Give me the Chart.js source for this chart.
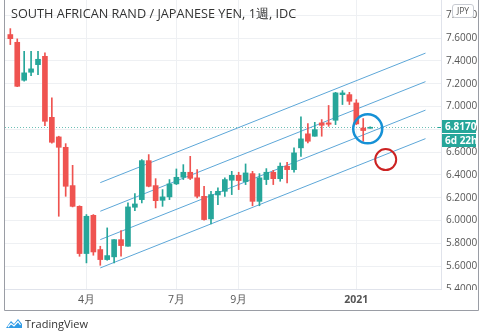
<!DOCTYPE html>
<html>
<head>
<meta charset="utf-8">
<script src="https://cdn.jsdelivr.net/npm/chart.js@4.4.1/dist/chart.umd.min.js"></script>
<style>
  html, body { margin: 0; padding: 0; background: #fff; }
  #wrap { position: relative; width: 480px; height: 332px; overflow: hidden; font-family: 'Open Sans', sans-serif; }
  #chart { position: absolute; left: 0; top: 0; }
  #title { position: absolute; left: 11px; top: 5px; font-size: 12.7px; line-height: 16px; color: #333; white-space: nowrap; }
  #unit { position: absolute; left: 452px; top: 4px; width: 20px; height: 12px; line-height: 12px; border: 1px solid #c8cbd2; border-radius: 3px;
          background: #fff; font-size: 8.5px; color: #555; text-align: center; }
  #brand { position: absolute; left: 5px; top: 316px; height: 14px; display: flex; align-items: center; font-size: 11px; color: #333; }
  #brand svg { margin-right: 2px; }
</style>
</head>
<body>
<div id="wrap">
  <canvas id="chart" width="480" height="332"></canvas>
  <div id="title">SOUTH AFRICAN RAND / JAPANESE YEN, 1週, IDC</div>
  <div id="unit">JPY</div>
  <div id="brand">
    <svg width="18" height="11" viewBox="0 0 18 11">
      <path d="M1 10 L6 3 L9 6 L13 1 L17 6 L17 10 Z" fill="#2f9be6"/>
      <path d="M3 9 L6 5.5 L9 8 L13 3.5 L15.5 7" fill="none" stroke="#fff" stroke-width="1.2"/>
    </svg>
    <span>TradingView</span>
  </div>
</div>
<script>
// weekly candles, ZAR/JPY, week of 2020-01-20 .. 2021-01-18
const firstWeek = '2020-01-20';
const weekCount = 63; // includes empty weeks to the right of the last candle

const opens  = [7.632, 7.564, 7.231, 7.301, 7.368, 7.441, 6.906, 6.734, 6.643, 6.307,
                6.125, 5.711, 6.046, 5.746, 5.658, 5.682, 5.833, 5.775, 6.117, 6.184,
                6.526, 6.307, 6.178, 6.208, 6.322, 6.380, 6.424, 6.375, 6.213, 6.015,
                6.225, 6.257, 6.354, 6.397, 6.342, 6.412, 6.169, 6.360, 6.424, 6.368,
                6.477, 6.447, 6.638, 6.761, 6.740, 6.857, 6.857, 6.880, 7.105, 7.105,
                7.032, 6.812, 6.810];
const highs  = [7.684, 7.594, 7.485, 7.485, 7.485, 7.471, 7.076, 6.740, 6.675, 6.485,
                6.130, 6.053, 6.053, 5.775, 5.936, 5.833, 5.912, 6.155, 6.237, 6.535,
                6.579, 6.368, 6.272, 6.360, 6.453, 6.491, 6.564, 6.447, 6.301, 6.257,
                6.287, 6.375, 6.432, 6.424, 6.497, 6.432, 6.412, 6.456, 6.441, 6.506,
                6.511, 6.638, 6.910, 6.851, 6.862, 6.886, 7.010, 7.125, 7.140, 7.125,
                7.061, 6.895, 6.822];
const lows   = [7.544, 7.175, 7.222, 7.272, 7.281, 6.833, 6.680, 6.038, 6.213, 6.120,
                5.687, 5.629, 5.696, 5.608, 5.652, 5.629, 5.687, 5.775, 6.088, 6.155,
                6.296, 6.111, 6.125, 6.184, 6.316, 6.360, 6.360, 6.199, 6.003, 5.971,
                6.140, 6.213, 6.228, 6.272, 6.316, 6.130, 6.130, 6.316, 6.316, 6.345,
                6.331, 6.424, 6.564, 6.682, 6.740, 6.740, 6.827, 6.842, 7.018, 7.018,
                6.842, 6.696, 6.810];
const closes = [7.596, 7.178, 7.296, 7.331, 7.415, 6.871, 6.687, 6.643, 6.301, 6.125,
                5.711, 6.038, 5.725, 5.658, 5.693, 5.833, 5.781, 6.120, 6.146, 6.526,
                6.301, 6.175, 6.208, 6.322, 6.380, 6.424, 6.371, 6.213, 6.009, 6.228,
                6.257, 6.360, 6.397, 6.351, 6.418, 6.169, 6.375, 6.424, 6.368, 6.477,
                6.447, 6.594, 6.717, 6.696, 6.798, 6.836, 6.845, 7.120, 7.120, 7.047,
                6.848, 6.790, 6.817];

// price axis and time axis labels
const priceTicks = [5.4, 5.6, 5.8, 6.0, 6.2, 6.4, 6.6, 6.8, 7.0, 7.2, 7.4, 7.6, 7.8];
const tickWeeks  = ['2020-04-06', '2020-07-06', '2020-09-07', '2021-01-04'];
const tickLabels = ['4月', '7月', '9月', '2021'];

// parallel channel: start/end week and the four rails
const channelWeeks = ['2020-04-20', '2021-03-15'];
const channelStart = [6.333, 6.082, 5.833, 5.585];
const channelEnd   = [7.469, 7.219, 6.969, 6.719];

// hand-drawn circles (week position, price)
const markWeeks  = [51.65, 54.25];
const markPrices = [6.805, 6.535];

const countdown = '6d 22h';

const UP = '#26a69a', DOWN = '#ef5350';

const weeks = [];
for (let i = 0; i < weekCount; i++) {
  const d = new Date(Date.parse(firstWeek + 'T00:00:00Z') + i * 7 * 864e5);
  weeks.push(d.toISOString().slice(0, 10));
}
const weekIndex = d => weeks.indexOf(d);

const candleColors = closes.map((c, i) => c >= opens[i] ? UP : DOWN);

const channelSets = channelStart.map((s, k) => ({
  type: 'line',
  data: [{ x: weekIndex(channelWeeks[0]), y: s }, { x: weekIndex(channelWeeks[1]), y: channelEnd[k] }],
  borderColor: '#5da7d8',
  borderWidth: 1,
  pointRadius: 0,
  order: 3
}));

const chartPlugin = {
  id: 'tvFrame',
  beforeDatasetsDraw(chart) {
    // dotted line at the last close
    const { ctx, chartArea, scales: { y } } = chart;
    const py = Math.round(y.getPixelForValue(closes[closes.length - 1])) + 0.5;
    ctx.save();
    ctx.strokeStyle = '#6cbfb5';
    ctx.lineWidth = 1;
    ctx.setLineDash([1, 2]);
    ctx.beginPath();
    ctx.moveTo(chartArea.left, py);
    ctx.lineTo(chartArea.right, py);
    ctx.stroke();
    ctx.restore();
  },
  afterDraw(chart) {
    const { ctx, chartArea, scales: { x, y } } = chart;
    const last = closes[closes.length - 1];
    const py = Math.round(y.getPixelForValue(last));
    ctx.save();
    // lower price label is cut by the time axis strip
    ctx.fillStyle = '#fff';
    ctx.fillRect(chartArea.right + 1, chartArea.bottom + 1, y.right - chartArea.right - 1, x.bottom - chartArea.bottom - 1);

    // outer frame
    ctx.strokeStyle = '#9a9da5';
    ctx.lineWidth = 1;
    ctx.beginPath();
    ctx.moveTo(chartArea.left - 0.5, 0);
    ctx.lineTo(chartArea.left - 0.5, x.bottom + 0.5);
    ctx.lineTo(y.right + 0.5, x.bottom + 0.5);
    ctx.lineTo(y.right + 0.5, 0);
    ctx.stroke();

    // last price and countdown tags
    const bx = chartArea.right + 1, bw = y.right - chartArea.right - 3;
    ctx.fillStyle = UP;
    ctx.fillRect(bx, py - 7, bw, 13);
    ctx.fillRect(bx, py + 7, bw, 13);
    ctx.strokeStyle = UP;
    ctx.beginPath();
    ctx.moveTo(chartArea.right - 3, py + 0.5);
    ctx.lineTo(chartArea.right, py + 0.5);
    ctx.stroke();
    ctx.fillStyle = '#fff';
    ctx.font = 'bold 10px "Open Sans", sans-serif';
    ctx.textBaseline = 'middle';
    ctx.textAlign = 'left';
    ctx.fillText(last.toFixed(4), bx + 3, py);
    ctx.fillText(countdown, bx + 3, py + 14);
    ctx.restore();
  }
};

new Chart(document.getElementById('chart'), {
  type: 'bar',
  data: {
    datasets: [
      {
        // shadows (high-low)
        data: highs.map((h, i) => ({ x: i, y: [lows[i], h] })),
        backgroundColor: candleColors,
        barThickness: 1,
        grouped: false,
        order: 2
      },
      {
        // bodies (open-close)
        data: opens.map((o, i) => ({ x: i, y: [o, closes[i]] })),
        backgroundColor: candleColors,
        barThickness: 5,
        minBarLength: 1,
        grouped: false,
        order: 1
      },
      ...channelSets,
      {
        type: 'line',
        data: markWeeks.map((w, i) => ({ x: w, y: markPrices[i] })),
        showLine: false,
        pointRadius: [14.5, 10.5],
        pointBorderWidth: [2.5, 2],
        pointBorderColor: ['#1591d6', '#cc2222'],
        pointBackgroundColor: 'rgba(0,0,0,0)',
        order: 0
      }
    ]
  },
  options: {
    responsive: false,
    animation: false,
    layout: { autoPadding: false, padding: { left: 5, right: 2, top: 0, bottom: 22 } },
    plugins: { legend: { display: false }, tooltip: { enabled: false } },
    scales: {
      x: {
        type: 'linear',
        min: -0.77,
        max: 62.24,
        offset: false,
        grid: { color: '#eef0f3', offset: false, drawTicks: false },
        border: { color: '#e0e3eb' },
        afterBuildTicks: s => { s.ticks = tickWeeks.map(w => ({ value: weekIndex(w) })); },
        afterFit: s => { s.height = 21; s.paddingLeft = 0; s.paddingRight = 0; },
        ticks: {
          padding: 5,
          maxRotation: 0,
          autoSkip: false,
          color: '#555',
          font: c => ({ family: 'Open Sans', size: 10.5, weight: c.index === 3 ? 'bold' : 'normal' }),
          callback: (v, i) => tickLabels[i]
        }
      },
      y: {
        position: 'right',
        min: 5.4,
        max: 7.935,
        grid: { color: '#eef0f3', drawTicks: false },
        border: { color: '#e0e3eb' },
        afterBuildTicks: s => { s.ticks = priceTicks.map(v => ({ value: v })); },
        afterFit: s => { s.width = 37; s.paddingTop = 0; s.paddingBottom = 0; },
        ticks: {
          padding: 5,
          color: '#555',
          font: { family: 'Open Sans', size: 10 },
          callback: v => v.toFixed(4)
        }
      }
    }
  },
  plugins: [chartPlugin]
});
</script>
</body>
</html>
